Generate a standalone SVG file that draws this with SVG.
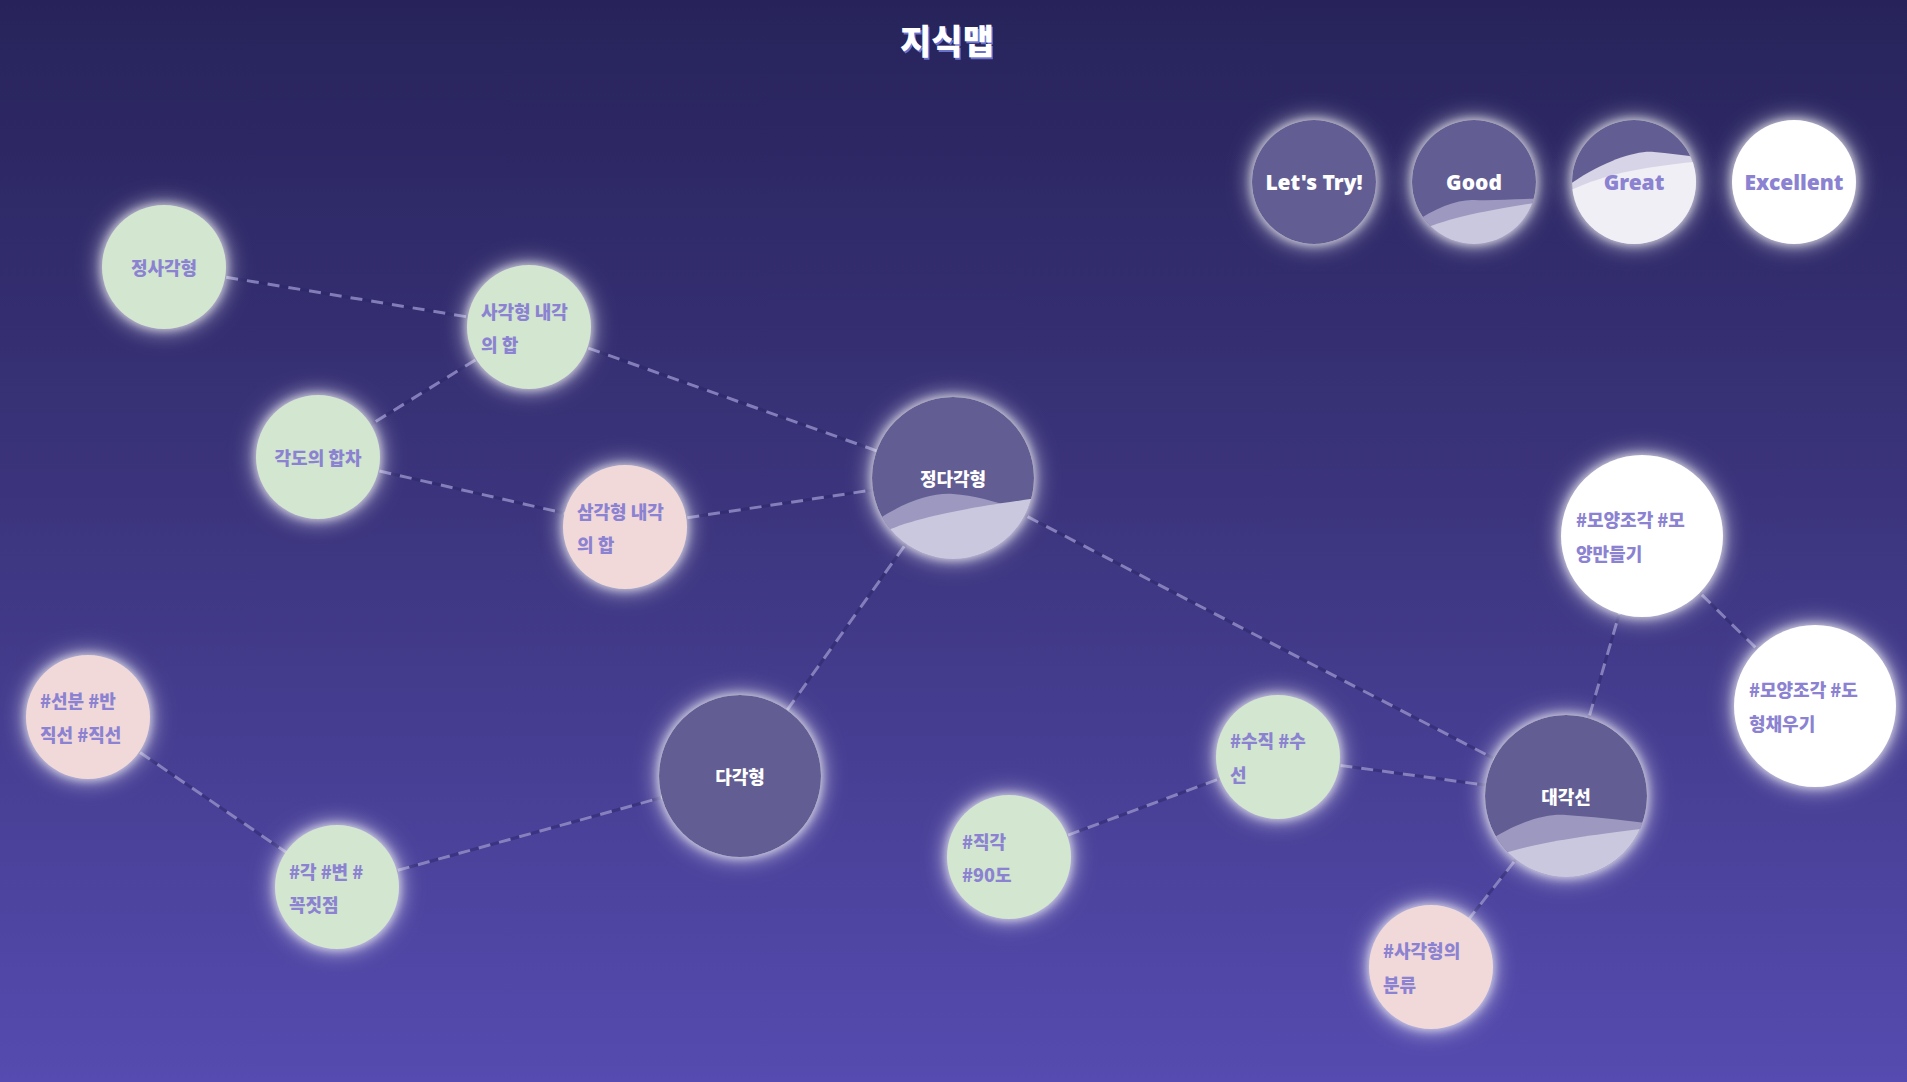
<svg xmlns="http://www.w3.org/2000/svg" width="1907" height="1082" viewBox="0 0 1907 1082">
  <defs>
    <linearGradient id="bg" x1="0" y1="0" x2="0" y2="1">
      <stop offset="0" stop-color="#27235a"/>
      <stop offset="0.5" stop-color="#3d3680"/>
      <stop offset="1" stop-color="#554bb0"/>
    </linearGradient>
    <filter id="glow" x="-50%" y="-50%" width="200%" height="200%">
      <feMorphology in="SourceAlpha" operator="dilate" radius="1" result="d"/>
      <feGaussianBlur in="d" stdDeviation="4" result="b1"/>
      <feGaussianBlur in="d" stdDeviation="11" result="b2"/>
      <feFlood flood-color="#ffffff" flood-opacity="0.55"/>
      <feComposite in2="b1" operator="in" result="g1"/>
      <feFlood flood-color="#ffffff" flood-opacity="0.7"/>
      <feComposite in2="b2" operator="in" result="g2"/>
      <feMerge>
        <feMergeNode in="g2"/>
        <feMergeNode in="g1"/>
        <feMergeNode in="SourceGraphic"/>
      </feMerge>
    </filter>
    <clipPath id="c81"><circle r="81"/></clipPath>
    <clipPath id="c62"><circle r="62"/></clipPath>
    <style>
      .green{fill:#d2e6d0}
      .pink{fill:#f2d9d9}
      .dark{fill:#625d92}
      .white{fill:#ffffff}
      .lbl{font-family:"Noto Sans CJK KR","Noto Sans",sans-serif;font-weight:900;font-size:18px;fill:#8b82d1;dominant-baseline:central}
      .lbl-w{fill:#ffffff}
      .mid{text-anchor:middle}
      .leg{font-family:"Noto Sans","Noto Sans CJK KR",sans-serif;font-weight:900;font-size:21px;text-anchor:middle;dominant-baseline:central}
      .back1{fill:#9c98c0}
      .front1{fill:#cac8de}
      .back2{fill:#d6d4e6}
      .front2{fill:#f0eff5}
      .edge-under{stroke:#2a2568;stroke-opacity:0.5;stroke-width:3;fill:none}
      .edge{stroke:#a7a1d8;stroke-opacity:0.7;stroke-width:3;fill:none;stroke-dasharray:12 9}
      .title{font-family:"Noto Sans CJK KR",sans-serif;font-weight:900;font-size:34px;text-anchor:middle}
    </style>
  </defs>

  <rect width="1907" height="1082" fill="url(#bg)"/>

  <g id="title">
    <text class="title" x="948.5" y="55.5" fill="#7b86e6" opacity="0.8">지식맵</text>
    <text class="title" x="947" y="54" fill="#ffffff">지식맵</text>
  </g>

  <g id="connectors">
    <g class="edge-under">
      <line x1="164" y1="267" x2="529" y2="327"/>
      <line x1="529" y1="327" x2="318" y2="457"/>
      <line x1="529" y1="327" x2="953" y2="478"/>
      <line x1="318" y1="457" x2="625" y2="527"/>
      <line x1="625" y1="527" x2="953" y2="478"/>
      <line x1="953" y1="478" x2="740" y2="776"/>
      <line x1="953" y1="478" x2="1566" y2="796"/>
      <line x1="88" y1="717" x2="337" y2="887"/>
      <line x1="337" y1="887" x2="740" y2="776"/>
      <line x1="1009" y1="857" x2="1278" y2="757"/>
      <line x1="1278" y1="757" x2="1566" y2="796"/>
      <line x1="1566" y1="796" x2="1431" y2="967"/>
      <line x1="1566" y1="796" x2="1642" y2="536"/>
      <line x1="1642" y1="536" x2="1815" y2="706"/>
    </g>
    <g class="edge">
      <line x1="164" y1="267" x2="529" y2="327"/>
      <line x1="529" y1="327" x2="318" y2="457"/>
      <line x1="529" y1="327" x2="953" y2="478"/>
      <line x1="318" y1="457" x2="625" y2="527"/>
      <line x1="625" y1="527" x2="953" y2="478"/>
      <line x1="953" y1="478" x2="740" y2="776"/>
      <line x1="953" y1="478" x2="1566" y2="796"/>
      <line x1="88" y1="717" x2="337" y2="887"/>
      <line x1="337" y1="887" x2="740" y2="776"/>
      <line x1="1009" y1="857" x2="1278" y2="757"/>
      <line x1="1278" y1="757" x2="1566" y2="796"/>
      <line x1="1566" y1="796" x2="1431" y2="967"/>
      <line x1="1566" y1="796" x2="1642" y2="536"/>
      <line x1="1642" y1="536" x2="1815" y2="706"/>
    </g>
  </g>

  <g id="nodes">
    <g id="node-jeongsagakhyeong" transform="translate(164,267)">
      <circle r="62" class="green" filter="url(#glow)"/>
      <text class="lbl mid" x="0" y="0">정사각형</text>
    </g>
    <g id="node-sagakhyeong-naegak" transform="translate(529,327)">
      <circle r="62" class="green" filter="url(#glow)"/>
      <text class="lbl" x="-48" y="-16">사각형 내각</text>
      <text class="lbl" x="-48" y="17">의 합</text>
    </g>
    <g id="node-gakdo-hapcha" transform="translate(318,457)">
      <circle r="62" class="green" filter="url(#glow)"/>
      <text class="lbl mid" x="0" y="0">각도의 합차</text>
    </g>
    <g id="node-samgakhyeong-naegak" transform="translate(625,527)">
      <circle r="62" class="pink" filter="url(#glow)"/>
      <text class="lbl" x="-48" y="-16">삼각형 내각</text>
      <text class="lbl" x="-48" y="17">의 합</text>
    </g>
    <g id="node-jeongdagakhyeong" transform="translate(953,478)">
      <circle r="81" class="dark" filter="url(#glow)"/>
      <g clip-path="url(#c81)">
        <path class="back1" d="M -100,60 C -62,28 -25,14 0,16 C 30,18 60,30 100,40 L 100,100 L -100,100 Z"/>
        <path class="front1" d="M -100,70 C -60,45 -20,34 100,18 L 100,100 L -100,100 Z"/>
      </g>
      <text class="lbl lbl-w mid" x="0" y="0">정다각형</text>
    </g>
    <g id="node-dagakhyeong" transform="translate(740,776)">
      <circle r="81" class="dark" filter="url(#glow)"/>
      <text class="lbl lbl-w mid" x="0" y="0">다각형</text>
    </g>
    <g id="node-seonbun" transform="translate(88,717)">
      <circle r="62" class="pink" filter="url(#glow)"/>
      <text class="lbl" x="-48" y="-17">#선분 #반</text>
      <text class="lbl" x="-48" y="17">직선 #직선</text>
    </g>
    <g id="node-gak-byeon" transform="translate(337,887)">
      <circle r="62" class="green" filter="url(#glow)"/>
      <text class="lbl" x="-48" y="-16">#각 #변 #</text>
      <text class="lbl" x="-48" y="17">꼭짓점</text>
    </g>
    <g id="node-jikgak" transform="translate(1009,857)">
      <circle r="62" class="green" filter="url(#glow)"/>
      <text class="lbl" x="-47" y="-16">#직각</text>
      <text class="lbl" x="-47" y="17">#90도</text>
    </g>
    <g id="node-sujik" transform="translate(1278,757)">
      <circle r="62" class="green" filter="url(#glow)"/>
      <text class="lbl" x="-48" y="-17">#수직 #수</text>
      <text class="lbl" x="-48" y="17">선</text>
    </g>
    <g id="node-daegakseon" transform="translate(1566,796)">
      <circle r="81" class="dark" filter="url(#glow)"/>
      <g clip-path="url(#c81)">
        <path class="back1" d="M -100,62 C -62,30 -25,17 0,19 C 30,21 60,24 100,30 L 100,100 L -100,100 Z"/>
        <path class="front1" d="M -100,74 C -60,52 -20,44 100,30 L 100,100 L -100,100 Z"/>
      </g>
      <text class="lbl lbl-w mid" x="0" y="0">대각선</text>
    </g>
    <g id="node-sagakhyeong-bunryu" transform="translate(1431,967)">
      <circle r="62" class="pink" filter="url(#glow)"/>
      <text class="lbl" x="-48" y="-17">#사각형의</text>
      <text class="lbl" x="-48" y="17">분류</text>
    </g>
    <g id="node-moyang-mandeulgi" transform="translate(1642,536)">
      <circle r="81" class="white" filter="url(#glow)"/>
      <text class="lbl" x="-66" y="-17">#모양조각 #모</text>
      <text class="lbl" x="-66" y="17">양만들기</text>
    </g>
    <g id="node-moyang-chaeugi" transform="translate(1815,706)">
      <circle r="81" class="white" filter="url(#glow)"/>
      <text class="lbl" x="-66" y="-17">#모양조각 #도</text>
      <text class="lbl" x="-66" y="17">형채우기</text>
    </g>
  </g>

  <g id="legend">
    <g id="legend-lets-try" transform="translate(1314,182)">
      <circle r="62" class="dark" filter="url(#glow)"/>
      <text class="leg" fill="#ffffff">Let's Try!</text>
    </g>
    <g id="legend-good" transform="translate(1474,182)">
      <circle r="62" class="dark" filter="url(#glow)"/>
      <g clip-path="url(#c62)">
        <path class="back1" d="M -80,56 C -50,30 -20,17 0,18 C 25,19 50,16 80,17 L 80,80 L -80,80 Z"/>
        <path class="front1" d="M -80,62 C -45,41 -15,32 80,18 L 80,80 L -80,80 Z"/>
      </g>
      <text class="leg" fill="#ffffff">Good</text>
    </g>
    <g id="legend-great" transform="translate(1634,182)">
      <circle r="62" class="dark" filter="url(#glow)"/>
      <g clip-path="url(#c62)">
        <path class="back2" d="M -80,14 C -40,-18 0,-32 20,-30 C 40,-28 60,-26 80,-22 L 80,80 L -80,80 Z"/>
        <path class="front2" d="M -80,17 C -40,-6 0,-15 80,-22 L 80,80 L -80,80 Z"/>
      </g>
      <text class="leg" fill="#8b82d1">Great</text>
    </g>
    <g id="legend-excellent" transform="translate(1794,182)">
      <circle r="62" class="white" filter="url(#glow)"/>
      <text class="leg" fill="#8b82d1">Excellent</text>
    </g>
  </g>
</svg>
